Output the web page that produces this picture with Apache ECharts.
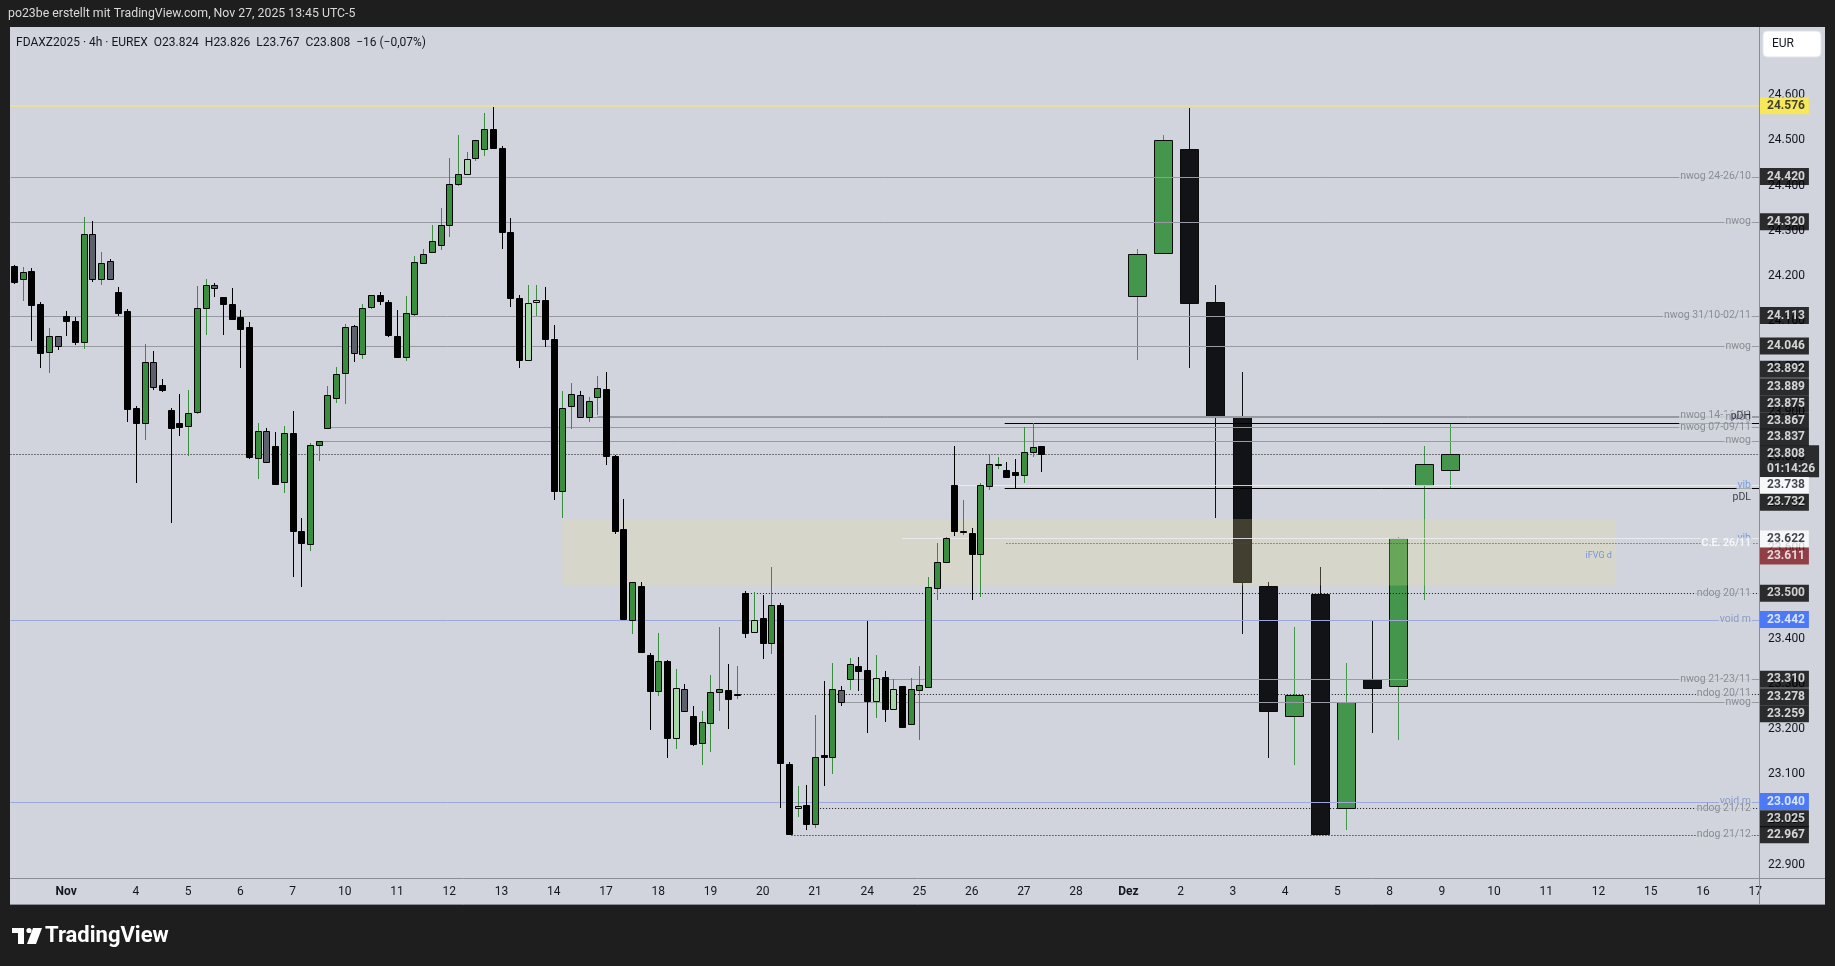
<!DOCTYPE html>
<html><head><meta charset="utf-8">
<script src="https://cdn.jsdelivr.net/npm/echarts@6/dist/echarts.min.js"></script>
<style>html,body{margin:0;padding:0;background:#1e1e1e;}#c{width:1835px;height:966px;}</style>
</head><body><div id="c"></div>
<script>
// ---------- 4h candles (FDAXZ2025, EUREX) ----------
const barOpen  = [24222,24193,24211,24138,24032,24068,24112,24101,24054,24294,24193,24233,24164,24122,23910,23876,24010,23959,23904,23876,23870,23901,24130,24180,24155,24138,24110,24088,23799,23858,23825,23746,23853,23637,23609,23828,23865,23930,23987,24090,24029,24133,24158,24144,24069,24022,24117,24230,24253,24268,24312,24403,24425,24460,24480,24524,24484,24297,24151,24016,24142,24147,24061,23726,23914,23937,23890,23934,23950,23804,23641,23442,23515,23363,23285,23350,23181,23288,23230,23170,23214,23281,23286,23276,23500,23415,23445,23391,23473,23124,23025,23032,22991,23142,23138,23286,23310,23339,23330,23261,23315,23245,23296,23212,23286,23294,23512,23570,23738,23636,23634,23587,23736,23785,23771,23767,23762,23811,23824];
const barHigh  = [24225,24220,24218,24143,24085,24068,24123,24110,24330,24322,24253,24238,24175,24127,23913,24050,24035,23973,23908,23940,23949,24178,24194,24185,24155,24174,24125,24099,23876,23865,23856,23869,23902,23666,23831,23835,23957,23999,24094,24092,24138,24159,24165,24147,24125,24156,24244,24260,24313,24350,24461,24512,24474,24500,24560,24574,24487,24328,24158,24180,24180,24176,24092,23946,23964,23946,23933,23980,23988,23805,23707,23525,23524,23369,23412,23352,23333,23300,23251,23240,23319,23425,23344,23339,23505,23502,23496,23558,23478,23127,23074,23077,23231,23306,23346,23295,23358,23359,23439,23364,23328,23310,23296,23313,23339,23536,23610,23625,23825,23706,23645,23743,23807,23800,23789,23796,23866,23876,23826];
const barLow   = [24183,24146,24057,23998,23987,24038,24068,24048,24040,24188,24181,24193,24113,23879,23744,23839,23949,23944,23656,23847,23803,23896,24070,24155,24070,24104,23998,23797,23753,23788,23740,23722,23536,23514,23594,23793,23865,23921,23918,24011,24018,24128,24137,24066,24020,24013,24112,24230,24253,24258,24287,24398,24425,24455,24466,24480,24261,24133,23998,24012,24112,24044,23706,23667,23863,23888,23877,23894,23782,23631,23442,23411,23369,23199,23274,23137,23155,23239,23163,23121,23150,23241,23201,23267,23402,23413,23355,23366,23026,22967,23007,22978,22982,23075,23102,23252,23286,23285,23192,23225,23216,23245,23205,23212,23176,23291,23485,23570,23626,23629,23484,23492,23729,23775,23755,23732,23744,23801,23767];
const barClose = [24188,24209,24137,24031,24068,24045,24102,24055,24294,24193,24230,24194,24119,23907,23876,24010,23956,23949,23865,23868,23899,24129,24180,24173,24139,24105,24084,23801,23858,23789,23742,23853,23638,23612,23827,23835,23937,23985,24087,24031,24129,24158,24146,24071,24022,24118,24231,24248,24277,24312,24403,24425,24458,24500,24526,24484,24297,24151,24016,24140,24147,24061,23726,23910,23939,23889,23924,23952,23804,23638,23443,23524,23371,23285,23350,23181,23290,23240,23168,23215,23283,23288,23267,23278,23413,23442,23391,23473,23126,22968,23030,22991,23138,23139,23288,23259,23343,23328,23263,23312,23245,23288,23205,23288,23297,23513,23570,23621,23638,23638,23587,23738,23785,23786,23757,23760,23811,23822,23808];
// candle colouring: g = up, b = down, x = bearish inside bar, l = bullish inside bar
const barKind  = ['b','g','b','b','g','x','b','b','g','x','g','x','b','b','b','g','x','b','b','b','g','g','g','x','b','b','b','b','g','x','b','g','b','b','g','g','g','g','g','x','g','g','b','b','b','g','g','g','g','g','g','g','l','g','g','b','b','b','b','l','l','b','b','g','g','x','g','g','b','b','b','g','b','b','g','b','l','x','b','g','g','g','b','g','b','l','b','g','b','b','l','b','g','b','g','x','g','b','b','l','b','l','b','g','g','g','g','g','b','g','b','g','g','g','b','b','g','g','b'];

// ---------- projected daily candles (Nov 11 .. Nov 27) ----------
const htfSlot  = [129,132,135,138,141,144,147,150,153,156,159,162,165];
const htfOpen  = [24157,24252,24480,24142,23890,23516,23230,23499,23026,23311,23295,23739,23772];
const htfHigh  = [24260,24512,24572,24181,23988,23525,23425,23558,23346,23438,23625,23826,23875];
const htfLow   = [24014,24250,23998,23667,23411,23137,23121,22967,22978,23192,23177,23484,23732];
const htfClose = [24249,24501,24140,23889,23524,23240,23276,22968,23260,23290,23621,23786,23808];

// ---------- iFVG box ----------
const fvgFrom = 63, fvgTo = 184, fvgTop = 23664, fvgBottom = 23517;

// ---------- horizontal levels ----------
const levelPrice = [24576,24420,24320,24113,24046,23892,23889,23875,23867,23837,23808,23738,23732,23622,23611,23500,23442,23310,23278,23259,23040,23025,22967];
const levelFrom  = [-0.4,-0.4,-0.4,-0.4,-0.4,67,66.5,113.8,36,35,-0.4,108,113.8,102,114,84.3,-0.4,96,82.8,95,-0.4,92.6,89.3];
const levelKind  = ['hi','nwog','nwog','nwog','nwog','nwog','nwog','pd','nwog','nwog','cur','vib','pd','vib','ce','ndog','void','nwog','ndog','nwog','void','ndog','ndog'];
const levelText  = ['','nwog 24-26/10','nwog','nwog 31/10-02/11','nwog','nwog 14-16/11','nwog','pDH','nwog 07-09/11','nwog','','vib','pDL','vib','C.E. 26/11','ndog 20/11','void m','nwog 21-23/11','ndog 20/11','nwog','void m','ndog 21/12','ndog 21/12'];
const countdown  = '01:14:26';

// ---------- x axis (trading days) ----------
const dayLabels = ['Nov','4','5','6','7','10','11','12','13','14','17','18','19','20','21','24','25','26','27','28','Dez','2','3','4','5','8','9','10','11','12','15','16','17'];
const daySlot   = [6,14,20,26,32,38,44,50,56,62,68,74,80,86,92,98,104,110,116,122,128,134,140,146,152,158,164,170,176,182,188,194,200];
const priceTicks = [22900,23000,23100,23200,23300,23400,23500,23600,23700,23800,23900,24000,24100,24200,24300,24400,24500,24600,24700];

// ---------- layout / style (not data) ----------
const X_MIN = -0.4, X_MAX = 200.44, Y_MIN = 22871.3, Y_MAX = 24750.1;
const BG = '#d1d4dc';
const FONT = 'Roboto, "Noto Sans", sans-serif';
const tagShift  = [0,0,0,0,0,-46.4,-30.3,-19.7,-6.3,-3.3,7.5,0,14.2,1,13,0,0,0,3,11.3,0,10.3,0];
const textShift = [0,0,0,0,0,0,0,-7,0,0,0,0,9,0,0,0,0,0,0,0,0,0,0];
const kindFill = {g:'#388e3c', b:'#000000', x:'#5d606b', l:'#a5d6a7'};
const kindWick = {g:'#388e3c', b:'#000000', x:'#000000', l:'#388e3c'};
const lineStyleOf = {
  hi:  {stroke:'rgba(245,230,110,0.6)', lineWidth:2},
  nwog:{stroke:'#979aa3', lineWidth:1},
  ndog:{stroke:'#111111', lineWidth:1, lineDash:[1,2]},
  cur: {stroke:'#111111', lineWidth:1, lineDash:[1,2]},
  void:{stroke:'#9da8d8', lineWidth:1},
  vib: {stroke:'rgba(236,239,245,0.85)', lineWidth:1},
  pd:  {stroke:'#000000', lineWidth:1},
  ce:  {stroke:'#8e2b2b', lineWidth:1, lineDash:[1,2]}
};
const textColorOf = {nwog:'#787b86', ndog:'#787b86', void:'#7d8bc4', vib:'#5f8cf0', pd:'#131722', ce:'#ffffff'};
const tagStyleOf = {
  hi:  {bg:'#ffeb3b', fg:'#131722'},
  vib: {bg:'#ffffff', fg:'#131722'},
  ce:  {bg:'#801922', fg:'#ffffff'},
  void:{bg:'#2962ff', fg:'#ffffff'},
  def: {bg:'#000000', fg:'#ffffff'}
};
const fmtPrice = v => (v/1000).toFixed(3);

// ---------- build series data ----------
const barData = barOpen.map((o,i) => [i, o, barClose[i], barLow[i], barHigh[i]]);
const htfData = htfSlot.map((s,i) => [s, htfOpen[i], htfClose[i], htfLow[i], htfHigh[i]]);
const levelData = levelPrice.map((p,i) => [levelFrom[i], p, i]);

const textData = [];
levelPrice.forEach((p,i) => {
  if (!levelText[i]) return;
  const k = levelKind[i];
  textData.push({
    value:[X_MAX, p],
    label:{formatter:levelText[i], color:textColorOf[k], offset:[0,textShift[i]],
      backgroundColor: k==='pd' ? 'transparent' : BG,
      fontWeight: k==='ce' ? 'bold' : 'normal'}
  });
});
textData.push({value:[fvgTo, (fvgTop+fvgBottom)/2], label:{formatter:'iFVG d', color:'#5b84e6', fontSize:9, distance:3, backgroundColor:'transparent', offset:[0,4]}});

const tagData = levelPrice.map((p,i) => {
  const k = levelKind[i];
  const st = tagStyleOf[k] || tagStyleOf.def;
  return {value:[X_MAX, p], label:{
    formatter: k==='cur' ? fmtPrice(p) + '\n' + countdown : fmtPrice(p),
    backgroundColor: st.bg, color: st.fg, offset:[0, tagShift[i]]
  }};
});

function candle(params, api, bodyUnits, fill, wick, border) {
  const x = api.value(0);
  const pO = api.coord([x, api.value(1)]), pC = api.coord([x, api.value(2)]);
  const pL = api.coord([x, api.value(3)]), pH = api.coord([x, api.value(4)]);
  const cx = Math.round(pO[0]);
  const half = Math.max(1, Math.round(api.size([bodyUnits, 0])[0] / 2));
  const yT = Math.round(Math.min(pO[1], pC[1])), yB = Math.round(Math.max(pO[1], pC[1]));
  return {type:'group', children:[
    {type:'line', shape:{x1:cx+0.5, y1:Math.round(pH[1]), x2:cx+0.5, y2:Math.round(pL[1])}, style:{stroke:wick, lineWidth:1}},
    {type:'rect', shape:{x:cx-half+0.5, y:yT+0.5, width:2*half, height:Math.max(yB-yT,1)}, style:{fill:fill, stroke:border, lineWidth:1}}
  ]};
}

const chart = echarts.init(document.getElementById('c'), null, {renderer:'canvas'});
chart.setOption({
  backgroundColor: BG,
  animation: false,
  grid: {left:10.5, right:76, top:27, bottom:88},
  xAxis: {
    type:'value', min:X_MIN, max:X_MAX,
    axisLine:{show:false}, axisTick:{show:false}, splitLine:{show:false},
    axisLabel:{customValues:daySlot, color:'#131722', fontSize:12, fontFamily:FONT, margin:8,
      formatter: v => { const j = daySlot.indexOf(Math.round(v)); const t = j>=0 ? dayLabels[j] : '';
        return (t==='Nov'||t==='Dez') ? '{b|'+t+'}' : t; },
      rich:{b:{fontWeight:'bold', fontSize:12, fontFamily:FONT, color:'#131722'}}}
  },
  yAxis: {
    type:'value', position:'right', min:Y_MIN, max:Y_MAX, scale:true,
    axisLine:{show:false}, axisTick:{show:false}, splitLine:{show:false},
    axisLabel:{customValues:priceTicks, formatter:fmtPrice, color:'#131722', fontSize:12, fontFamily:FONT, margin:9}
  },
  series: [
    {type:'custom', name:'daily', z:1, data:htfData, encode:{x:0, y:[1,2,3,4]},
      renderItem:(p,api) => { const up = api.value(2) >= api.value(1);
        return candle(p, api, 2.1, up ? '#43964b' : '#121316', up ? '#43964b' : '#121316', '#0b0b0b'); }},
    {type:'custom', name:'fvg', z:2, data:[[fvgFrom, fvgTo, fvgTop, fvgBottom]],
      renderItem:(p,api) => { const a = api.coord([api.value(0), api.value(2)]), b = api.coord([api.value(1), api.value(3)]);
        return {type:'rect', shape:{x:a[0], y:a[1], width:b[0]-a[0], height:b[1]-a[1]}, style:{fill:'rgba(236,223,145,0.22)'}}; }},
    {type:'custom', name:'levels', z:3, data:levelData, encode:{x:0, y:1},
      renderItem:(p,api) => { const i = api.value(2); const st = lineStyleOf[levelKind[i]];
        const a = api.coord([api.value(0), api.value(1)]), b = api.coord([X_MAX, api.value(1)]);
        const y = Math.round(a[1]) + (st.lineWidth === 2 ? 0 : 0.5);
        return {type:'line', shape:{x1:a[0], y1:y, x2:b[0], y2:y}, style:Object.assign({}, st)}; }},
    {type:'custom', name:'4h', z:4, data:barData, encode:{x:0, y:[1,2,3,4]},
      renderItem:(p,api) => { const k = barKind[p.dataIndex]; return candle(p, api, 0.72, kindFill[k], kindWick[k], '#000000'); }},
    {type:'scatter', name:'levelText', z:5, clip:false, symbolSize:0, silent:true, data:textData,
      label:{show:true, position:'left', distance:7, fontSize:10.5, fontFamily:FONT, padding:[0,1]}},
    {type:'scatter', name:'tags', z:6, clip:false, symbolSize:0, silent:true, data:tagData,
      label:{show:true, position:'right', distance:1, fontSize:12, fontWeight:'bold', fontFamily:FONT, lineHeight:15, padding:[1,4,1,7]}}
  ],
  graphic: [
    {type:'rect', z:100, shape:{x:0, y:0, width:1835, height:27}, style:{fill:'#1e1e1e'}},
    {type:'rect', z:100, shape:{x:0, y:0, width:10, height:966}, style:{fill:'#1e1e1e'}},
    {type:'rect', z:100, shape:{x:1825, y:0, width:10, height:966}, style:{fill:'#1e1e1e'}},
    {type:'rect', z:100, shape:{x:0, y:905, width:1835, height:61}, style:{fill:'#1e1e1e'}},
    {type:'line', z:100, shape:{x1:1759.5, y1:27, x2:1759.5, y2:905}, style:{stroke:'#8a8d96', lineWidth:1}},
    {type:'line', z:100, shape:{x1:10, y1:878.5, x2:1825, y2:878.5}, style:{stroke:'#8a8d96', lineWidth:1}},
    {type:'line', z:100, shape:{x1:10, y1:904.5, x2:1825, y2:904.5}, style:{stroke:'#8a8d96', lineWidth:1}},
    {type:'text', z:101, x:8, y:14, style:{text:'po23be erstellt mit TradingView.com, Nov 27, 2025 13:45 UTC-5', fill:'#d9d9d9', font:'12.3px '+FONT, verticalAlign:'middle'}},
    {type:'text', z:101, x:16, y:43, style:{text:'FDAXZ2025 · 4h · EUREX  O23.824  H23.826  L23.767  C23.808  −16 (−0,07%)', fill:'#131722', font:'12px '+FONT, verticalAlign:'middle'}},
    {type:'rect', z:101, shape:{x:1763, y:31, width:58, height:26, r:4}, style:{fill:'#ffffff', stroke:'#e0e3eb', lineWidth:1}},
    {type:'text', z:102, x:1772, y:44, style:{text:'EUR', fill:'#131722', font:'12px '+FONT, verticalAlign:'middle'}},
    {type:'rect', z:101, shape:{x:12, y:928, width:12, height:5}, style:{fill:'#ffffff'}},
    {type:'rect', z:101, shape:{x:18, y:928, width:6, height:16}, style:{fill:'#ffffff'}},
    {type:'circle', z:101, shape:{cx:29, cy:930.5, r:2.6}, style:{fill:'#ffffff'}},
    {type:'polygon', z:101, shape:{points:[[33,928],[42,928],[36,944],[27,944]]}, style:{fill:'#ffffff'}},
    {type:'text', z:101, x:45, y:936, style:{text:'TradingView', fill:'#ffffff', font:'bold 22px '+FONT, verticalAlign:'middle'}}
  ]
});
</script></body></html>
